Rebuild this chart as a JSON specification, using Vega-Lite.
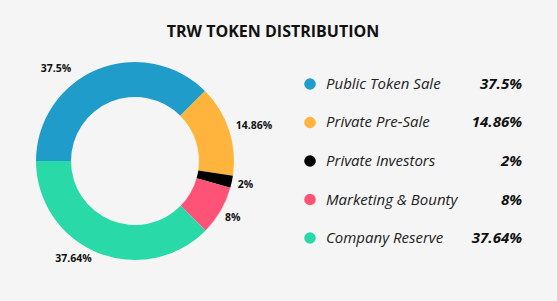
{
  "$schema": "https://vega.github.io/schema/vega-lite/v6.json",
  "background": "#f5f5f5",
  "padding": {"left": 0, "top": 24, "right": 28, "bottom": 30},
  "title": {"text": "TRW TOKEN DISTRIBUTION", "font": "Open Sans", "fontSize": 16, "fontWeight": "bold", "color": "#111111", "anchor": "middle", "offset": 11, "dx": 7},
  "config": {"view": {"stroke": null}, "font": "Open Sans"},
  "data": {"values": [
    {"idx": 0, "name": "Public Token Sale", "pct": 37.5, "label": "37.5%"},
    {"idx": 1, "name": "Private Pre-Sale", "pct": 14.86, "label": "14.86%"},
    {"idx": 2, "name": "Private Investors", "pct": 2, "label": "2%"},
    {"idx": 3, "name": "Marketing & Bounty", "pct": 8, "label": "8%"},
    {"idx": 4, "name": "Company Reserve", "pct": 37.64, "label": "37.64%"}
  ]},
  "spacing": 19,
  "hconcat": [
    {
      "width": 270,
      "height": 220,
      "encoding": {
        "theta": {"field": "pct", "type": "quantitative", "stack": true, "scale": {"range": [-1.5708, 4.7124]}},
        "order": {"field": "idx", "type": "quantitative"},
        "color": {"field": "name", "type": "nominal", "sort": null, "legend": null,
          "scale": {"domain": ["Public Token Sale", "Private Pre-Sale", "Private Investors", "Marketing & Bounty", "Company Reserve"],
                    "range": ["#1f9cc9", "#ffb53d", "#000000", "#ff5277", "#2ad9a8"]}}
      },
      "layer": [
        {"mark": {"type": "arc", "outerRadius": 99, "innerRadius": 64}},
        {"mark": {"type": "text", "fontSize": 10.5, "fontWeight": "bold", "font": "Open Sans",
                  "radius": {"expr": "datum.idx === 4 ? 116 : (datum.idx === 1 ? 124 : (datum.idx === 0 ? 121 : 113))"},
                  "thetaOffset": {"expr": "datum.idx === 0 ? -0.32 : (datum.idx === 4 ? 0.17 : (datum.idx === 1 ? 0.03 : 0))"}},
         "encoding": {"text": {"field": "label"}, "color": {"value": "#111111"}}}
      ]
    },
    {
      "width": 240,
      "height": 220,
      "encoding": {
        "y": {"field": "name", "type": "nominal", "sort": null, "axis": null, "scale": {"type": "point", "padding": 0.857}}
      },
      "layer": [
        {"mark": {"type": "point", "filled": true, "size": 135, "opacity": 1},
         "encoding": {
           "x": {"datum": 18, "type": "quantitative", "scale": {"domain": [0, 240]}, "axis": null},
           "color": {"field": "name", "type": "nominal", "sort": null, "legend": null}
         }},
        {"mark": {"type": "text", "align": "left", "fontStyle": "italic", "fontSize": 15, "font": "Open Sans", "color": "#222222"},
         "encoding": {
           "x": {"datum": 34, "type": "quantitative"},
           "text": {"field": "name"}
         }},
        {"mark": {"type": "text", "align": "right", "fontStyle": "italic", "fontWeight": "bold", "fontSize": 15, "font": "Open Sans", "color": "#111111"},
         "encoding": {
           "x": {"datum": 230, "type": "quantitative"},
           "text": {"field": "label"}
         }}
      ]
    }
  ]
}
